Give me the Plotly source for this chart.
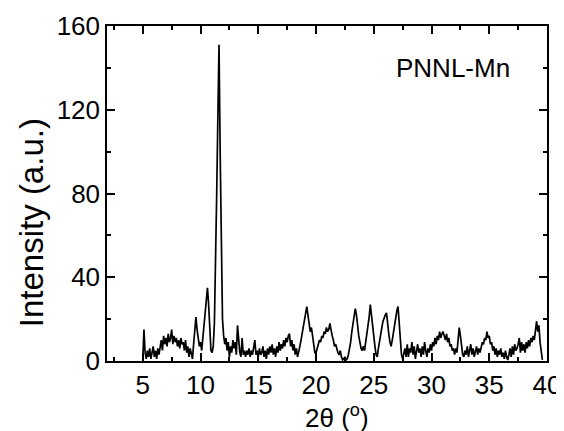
import plotly.graph_objects as go

# 2-theta grid (degrees), 0.1 deg step, starting at 5.0
two_theta_start = 5.0
two_theta_step = 0.1

# Intensity, one list per degree (x.0 ... x.9)
i05 = [1, 15, 4, 1, 5, 2, 6, 1, 4, 7]
i06 = [2, 5, 1, 6, 3, 7, 10, 5, 12, 8]
i07 = [11, 7, 13, 9, 11, 15, 8, 12, 9, 11]
i08 = [7, 10, 6, 11, 8, 9, 5, 10, 4, 7]
i09 = [2, 6, 3, 1, 8, 14, 21, 15, 10, 7]
i10 = [9, 5, 11, 17, 24, 30, 35, 27, 12, 5]
i11 = [4, 7, 18, 45, 80, 117, 151, 99, 52, 20]
i12 = [12, 8, 11, 5, 9, 2, 7, 4, 10, 6]
i13 = [9, 3, 17, 8, 4, 2, 11, 3, 5, 2]
i14 = [5, 3, 6, 2, 5, 3, 7, 10, 3, 5]
i15 = [2, 6, 3, 4, 7, 2, 5, 1, 6, 3]
i16 = [7, 4, 8, 3, 6, 2, 7, 4, 9, 5]
i17 = [8, 6, 10, 7, 11, 9, 12, 13, 7, 10]
i18 = [5, 8, 3, 6, 2, 4, 7, 10, 13, 17]
i19 = [21, 24, 26, 22, 17, 14, 16, 11, 8, 4]
i20 = [4, 6, 8, 10, 9, 12, 11, 14, 13, 16]
i21 = [14, 15, 18, 14, 12, 10, 7, 8, 5, 4]
i22 = [3, 5, 2, 0.5, 1, 2, 0.5, 1, 3, 6]
i23 = [9, 14, 17, 21, 25, 22, 16, 12, 9, 6]
i24 = [5, 7, 5, 10, 13, 17, 21, 27, 22, 16]
i25 = [11, 7, 3, 2, 6, 10, 13, 16, 19, 21]
i26 = [22, 23, 17, 13, 9, 7, 10, 14, 18, 22]
i27 = [24, 26, 19, 11, 3, 1, 3, 6, 2, 8]
i28 = [2, 6, 4, 9, 3, 7, 1, 5, 8, 4]
i29 = [6, 2, 7, 3, 9, 5, 2, 6, 4, 8]
i30 = [5, 9, 7, 11, 8, 12, 10, 14, 11, 13]
i31 = [14, 12, 10, 13, 9, 11, 7, 8, 5, 6]
i32 = [3, 6, 4, 10, 16, 12, 6, 3, 2, 5]
i33 = [3, 7, 2, 5, 8, 3, 6, 2, 4, 7]
i34 = [3, 6, 4, 7, 9, 8, 11, 10, 14, 11]
i35 = [12, 8, 9, 5, 7, 3, 6, 2, 5, 3]
i36 = [6, 2, 4, 1, 5, 2, 0.5, 3, 6, 2]
i37 = [7, 3, 8, 5, 6, 8, 11, 4, 9, 5]
i38 = [8, 4, 9, 6, 10, 7, 11, 9, 12, 10]
i39 = [15, 19, 14, 17, 9, 3, 0.5]

intensity = (i05 + i06 + i07 + i08 + i09 + i10 + i11 + i12 + i13 + i14 + i15 + i16
             + i17 + i18 + i19 + i20 + i21 + i22 + i23 + i24 + i25 + i26 + i27 + i28
             + i29 + i30 + i31 + i32 + i33 + i34 + i35 + i36 + i37 + i38 + i39)
two_theta = [round(two_theta_start + two_theta_step * k, 2) for k in range(len(intensity))]

x_ticks = [5, 10, 15, 20, 25, 30, 35, 40]
y_ticks = [0, 40, 80, 120, 160]

sample_label = "PNNL-Mn"
x_title = "2θ (<sup>o</sup>)"
y_title = "Intensity (a.u.)"

FONT = "Liberation Sans, Arial, sans-serif"

fig = go.Figure()
fig.add_trace(go.Scatter(x=two_theta, y=intensity, mode="lines",
                         line=dict(color="black", width=1.7), showlegend=False))

axis_common = dict(
    showline=True, linecolor="black", linewidth=1.5, mirror="allticks",
    ticks="inside", ticklen=8, tickwidth=1.5, tickcolor="black",
    showgrid=False, zeroline=False, automargin=False,
    tickfont=dict(family=FONT, size=26, color="black"),
)

fig.update_xaxes(range=[1.9, 40], tickmode="array", tickvals=x_ticks,
                 ticktext=[str(v) for v in x_ticks],
                 minor=dict(ticks="inside", ticklen=4, tickwidth=1.5, tickcolor="black",
                            tickmode="linear", tick0=2.5, dtick=2.5),
                 **axis_common)
fig.update_yaxes(range=[0, 160], tickmode="array", tickvals=y_ticks,
                 ticktext=[str(v) for v in y_ticks],
                 minor=dict(ticks="inside", ticklen=4, tickwidth=1.5, tickcolor="black",
                            tickmode="linear", tick0=0, dtick=20),
                 **axis_common)

fig.add_annotation(text=sample_label, xref="paper", yref="paper", x=0.92, y=0.875,
                   xanchor="right", yanchor="middle", showarrow=False,
                   font=dict(family=FONT, size=26, color="black"))
fig.add_annotation(text=x_title, xref="paper", yref="paper", x=0.522, y=-0.167,
                   xanchor="center", yanchor="middle", showarrow=False,
                   font=dict(family=FONT, size=26, color="black"))
fig.add_annotation(text=y_title, xref="paper", yref="paper", x=-0.17, y=0.412,
                   xanchor="center", yanchor="middle", showarrow=False, textangle=-90,
                   font=dict(family=FONT, size=33, color="black"))

# page body adds an 8 px offset, so the figure is sized to the visible area
fig.update_layout(
    width=556, height=423,
    margin=dict(l=99, r=17, t=18, b=70),
    paper_bgcolor="white", plot_bgcolor="white",
)

fig.write_html("out.html")
